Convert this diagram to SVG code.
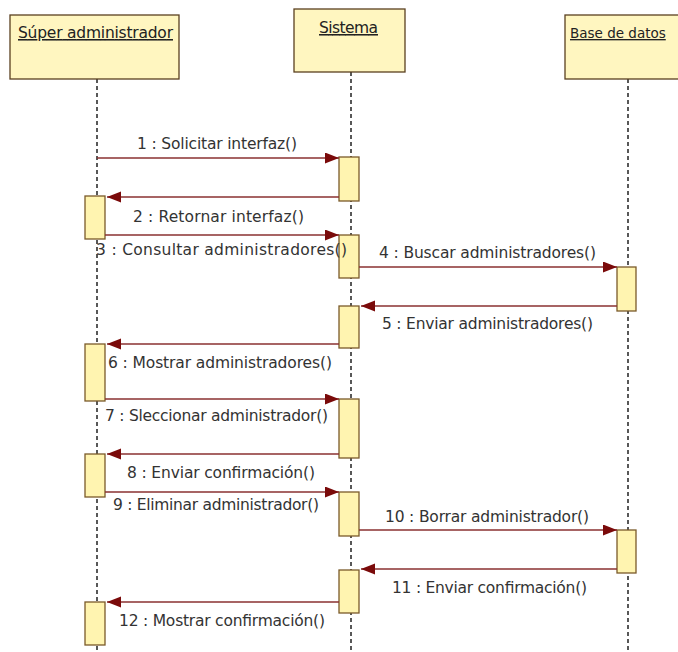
<svg xmlns="http://www.w3.org/2000/svg" width="678" height="652" viewBox="0 0 678 652">
<style>
.hdr{fill:#fff6c0;stroke:#5a4020;stroke-width:1.3}
.life{stroke:#222;stroke-width:1.5;stroke-dasharray:4 3;fill:none}
.act{fill:#fff4b0;stroke:#7a5a2a;stroke-width:1.3}
.msg{stroke:#8a3030;stroke-width:1.3;fill:none;marker-end:url(#ah)}
.lbl{font-family:"DejaVu Sans",sans-serif;font-size:15.5px;fill:#333}
.title{font-family:"DejaVu Sans",sans-serif;font-size:15.5px;fill:#222;text-decoration:underline}
</style>
<defs>
<marker id="ah" markerUnits="userSpaceOnUse" markerWidth="15" markerHeight="12" refX="14" refY="5.5" orient="auto">
<path d="M0,0 L14,5.5 L0,11 Z" fill="#7a0a0a"/>
</marker>
</defs>
<rect width="678" height="652" fill="#ffffff"/>

<g id="lifelines">
<line class="life" x1="97" y1="79" x2="97" y2="652"/>
<line class="life" x1="351" y1="72" x2="351" y2="652"/>
<line class="life" x1="628" y1="79" x2="628" y2="652"/>
</g>

<g id="super-admin">
<rect class="hdr" x="10" y="15" width="169" height="64"/>
<text class="title" x="18" y="38" textLength="155">Súper administrador</text>
<rect class="act" x="85" y="196" width="20" height="43"/>
<rect class="act" x="85" y="344" width="20" height="57"/>
<rect class="act" x="85" y="454" width="20" height="43"/>
<rect class="act" x="85" y="602" width="20" height="43"/>
</g>

<g id="sistema">
<rect class="hdr" x="294" y="9" width="111" height="63"/>
<text class="title" x="319" y="33" textLength="59">Sistema</text>
<rect class="act" x="339" y="157" width="20" height="44"/>
<rect class="act" x="339" y="235" width="20" height="43"/>
<rect class="act" x="339" y="306" width="20" height="42"/>
<rect class="act" x="339" y="399" width="20" height="59"/>
<rect class="act" x="339" y="492" width="20" height="44"/>
<rect class="act" x="339" y="570" width="20" height="43"/>
</g>

<g id="base-datos">
<rect class="hdr" x="565" y="15" width="130" height="64"/>
<text class="title" x="570" y="38" style="font-size:13.5px">Base de datos</text>
<rect class="act" x="617" y="267" width="19" height="44"/>
<rect class="act" x="617" y="530" width="19" height="43"/>
</g>

<g id="connectors">
<line class="msg" x1="97" y1="158" x2="339" y2="158"/>
<line class="msg" x1="339" y1="197" x2="107" y2="197"/>
<line class="msg" x1="105" y1="235" x2="339" y2="235"/>
<line class="msg" x1="359" y1="267" x2="617" y2="267"/>
<line class="msg" x1="617" y1="306" x2="361" y2="306"/>
<line class="msg" x1="339" y1="344" x2="107" y2="344"/>
<line class="msg" x1="105" y1="399" x2="339" y2="399"/>
<line class="msg" x1="339" y1="454" x2="107" y2="454"/>
<line class="msg" x1="105" y1="492" x2="339" y2="492"/>
<line class="msg" x1="359" y1="530" x2="617" y2="530"/>
<line class="msg" x1="617" y1="569" x2="361" y2="569"/>
<line class="msg" x1="339" y1="602" x2="107" y2="602"/>
</g>

<g id="labels">
<text class="lbl" x="137" y="149" textLength="160">1 : Solicitar interfaz()</text>
<text class="lbl" x="133" y="222" textLength="171">2 : Retornar interfaz()</text>
<text class="lbl" x="96" y="255" textLength="251">3 : Consultar administradores()</text>
<text class="lbl" x="379" y="258" textLength="217">4 : Buscar administradores()</text>
<text class="lbl" x="382" y="329" textLength="211">5 : Enviar administradores()</text>
<text class="lbl" x="108" y="368" textLength="224">6 : Mostrar administradores()</text>
<text class="lbl" x="105" y="421" textLength="223">7 : Sleccionar administrador()</text>
<text class="lbl" x="127" y="478" textLength="188">8 : Enviar confirmación()</text>
<text class="lbl" x="113" y="510" textLength="206">9 : Eliminar administrador()</text>
<text class="lbl" x="385" y="522" textLength="204">10 : Borrar administrador()</text>
<text class="lbl" x="392" y="593" textLength="195">11 : Enviar confirmación()</text>
<text class="lbl" x="119" y="626" textLength="206">12 : Mostrar confirmación()</text>
</g>
</svg>
